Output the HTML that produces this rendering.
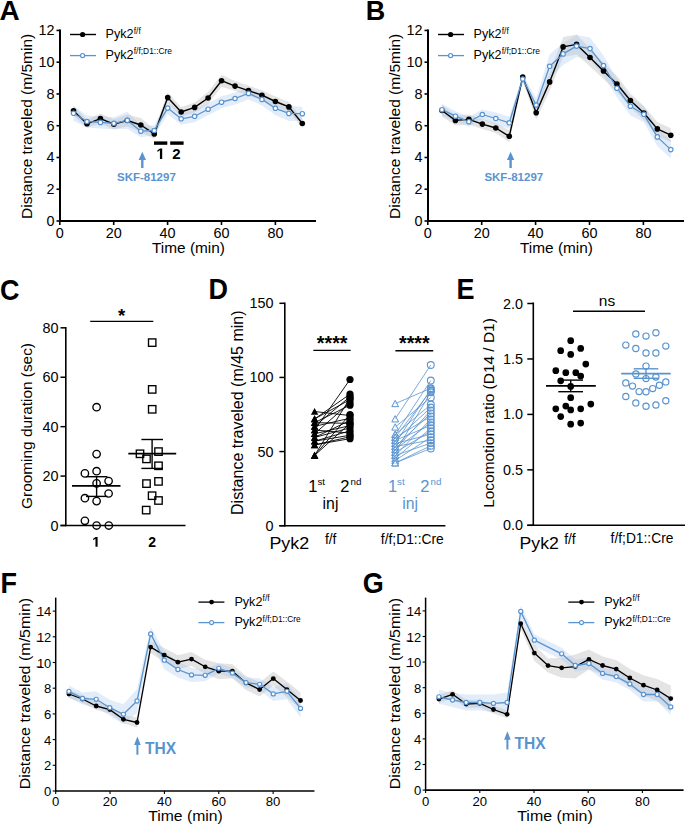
<!DOCTYPE html>
<html><head><meta charset="utf-8"><style>
html,body{margin:0;padding:0;background:#fff;}
svg{display:block;font-family:"Liberation Sans", sans-serif;}
</style></head><body>
<svg width="685" height="824" viewBox="0 0 685 824">
<rect width="685" height="824" fill="#fff"/>
<polygon points="73.50,105.70 86.96,119.80 100.42,113.60 113.88,119.20 127.34,114.50 140.80,118.00 154.26,128.90 167.72,92.60 181.18,107.00 194.64,102.40 208.10,92.00 221.56,74.70 235.02,81.10 248.48,85.60 261.94,90.20 275.40,96.50 288.86,101.90 302.32,119.50 302.32,127.50 288.86,111.90 275.40,106.50 261.94,100.20 248.48,95.60 235.02,91.10 221.56,86.70 208.10,104.00 194.64,112.40 181.18,117.00 167.72,102.60 154.26,138.90 140.80,132.00 127.34,126.50 113.88,129.20 100.42,123.60 86.96,127.80 73.50,115.70" fill="#bdbdbd" fill-opacity="0.41" stroke="none"/>
<polygon points="73.50,105.80 86.96,115.50 100.42,116.40 113.88,117.30 127.34,111.80 140.80,125.20 154.26,125.50 167.72,102.10 181.18,112.80 194.64,110.30 208.10,103.20 221.56,96.20 235.02,92.50 248.48,87.40 261.94,93.40 275.40,101.30 288.86,105.90 302.32,106.70 302.32,120.70 288.86,120.90 275.40,115.30 261.94,105.40 248.48,99.40 235.02,104.50 221.56,108.20 208.10,115.20 194.64,122.30 181.18,124.80 167.72,114.10 154.26,135.50 140.80,137.20 127.34,128.80 113.88,129.30 100.42,128.40 86.96,127.50 73.50,120.80" fill="#9ec3ea" fill-opacity="0.3" stroke="none"/>
<polyline points="73.50,110.70 86.96,123.80 100.42,118.60 113.88,124.20 127.34,120.50 140.80,125.00 154.26,133.90 167.72,97.60 181.18,112.00 194.64,107.40 208.10,98.00 221.56,80.70 235.02,86.10 248.48,90.60 261.94,95.20 275.40,101.50 288.86,106.90 302.32,123.50" fill="none" stroke="#000" stroke-width="1.4" stroke-linejoin="round"/>
<polyline points="73.50,113.30 86.96,121.50 100.42,122.40 113.88,123.30 127.34,120.30 140.80,131.20 154.26,130.50 167.72,108.10 181.18,118.80 194.64,116.30 208.10,109.20 221.56,102.20 235.02,98.50 248.48,93.40 261.94,99.40 275.40,108.30 288.86,113.40 302.32,113.70" fill="none" stroke="#5a94d0" stroke-width="1.3" stroke-linejoin="round"/>
<circle cx="73.50" cy="110.70" r="2.8" fill="#000"/>
<circle cx="86.96" cy="123.80" r="2.8" fill="#000"/>
<circle cx="100.42" cy="118.60" r="2.8" fill="#000"/>
<circle cx="113.88" cy="124.20" r="2.8" fill="#000"/>
<circle cx="127.34" cy="120.50" r="2.8" fill="#000"/>
<circle cx="140.80" cy="125.00" r="2.8" fill="#000"/>
<circle cx="154.26" cy="133.90" r="2.8" fill="#000"/>
<circle cx="167.72" cy="97.60" r="2.8" fill="#000"/>
<circle cx="181.18" cy="112.00" r="2.8" fill="#000"/>
<circle cx="194.64" cy="107.40" r="2.8" fill="#000"/>
<circle cx="208.10" cy="98.00" r="2.8" fill="#000"/>
<circle cx="221.56" cy="80.70" r="2.8" fill="#000"/>
<circle cx="235.02" cy="86.10" r="2.8" fill="#000"/>
<circle cx="248.48" cy="90.60" r="2.8" fill="#000"/>
<circle cx="261.94" cy="95.20" r="2.8" fill="#000"/>
<circle cx="275.40" cy="101.50" r="2.8" fill="#000"/>
<circle cx="288.86" cy="106.90" r="2.8" fill="#000"/>
<circle cx="302.32" cy="123.50" r="2.8" fill="#000"/>
<circle cx="73.50" cy="113.30" r="2.2" fill="#fff" stroke="#5a94d0" stroke-width="1.2"/>
<circle cx="86.96" cy="121.50" r="2.2" fill="#fff" stroke="#5a94d0" stroke-width="1.2"/>
<circle cx="100.42" cy="122.40" r="2.2" fill="#fff" stroke="#5a94d0" stroke-width="1.2"/>
<circle cx="113.88" cy="123.30" r="2.2" fill="#fff" stroke="#5a94d0" stroke-width="1.2"/>
<circle cx="127.34" cy="120.30" r="2.2" fill="#fff" stroke="#5a94d0" stroke-width="1.2"/>
<circle cx="140.80" cy="131.20" r="2.2" fill="#fff" stroke="#5a94d0" stroke-width="1.2"/>
<circle cx="154.26" cy="130.50" r="2.2" fill="#fff" stroke="#5a94d0" stroke-width="1.2"/>
<circle cx="167.72" cy="108.10" r="2.2" fill="#fff" stroke="#5a94d0" stroke-width="1.2"/>
<circle cx="181.18" cy="118.80" r="2.2" fill="#fff" stroke="#5a94d0" stroke-width="1.2"/>
<circle cx="194.64" cy="116.30" r="2.2" fill="#fff" stroke="#5a94d0" stroke-width="1.2"/>
<circle cx="208.10" cy="109.20" r="2.2" fill="#fff" stroke="#5a94d0" stroke-width="1.2"/>
<circle cx="221.56" cy="102.20" r="2.2" fill="#fff" stroke="#5a94d0" stroke-width="1.2"/>
<circle cx="235.02" cy="98.50" r="2.2" fill="#fff" stroke="#5a94d0" stroke-width="1.2"/>
<circle cx="248.48" cy="93.40" r="2.2" fill="#fff" stroke="#5a94d0" stroke-width="1.2"/>
<circle cx="261.94" cy="99.40" r="2.2" fill="#fff" stroke="#5a94d0" stroke-width="1.2"/>
<circle cx="275.40" cy="108.30" r="2.2" fill="#fff" stroke="#5a94d0" stroke-width="1.2"/>
<circle cx="288.86" cy="113.40" r="2.2" fill="#fff" stroke="#5a94d0" stroke-width="1.2"/>
<circle cx="302.32" cy="113.70" r="2.2" fill="#fff" stroke="#5a94d0" stroke-width="1.2"/>
<line x1="60.00" y1="29.50" x2="60.00" y2="222.00" stroke="#000" stroke-width="2" />
<line x1="59.00" y1="221.00" x2="316.00" y2="221.00" stroke="#000" stroke-width="2" />
<line x1="56.50" y1="221.00" x2="60.00" y2="221.00" stroke="#000" stroke-width="1.6" />
<text x="54.60" y="226.00" font-size="14.4" text-anchor="end" font-weight="normal" fill="#000" >0</text>
<line x1="56.50" y1="189.24" x2="60.00" y2="189.24" stroke="#000" stroke-width="1.6" />
<text x="54.60" y="194.24" font-size="14.4" text-anchor="end" font-weight="normal" fill="#000" >2</text>
<line x1="56.50" y1="157.48" x2="60.00" y2="157.48" stroke="#000" stroke-width="1.6" />
<text x="54.60" y="162.48" font-size="14.4" text-anchor="end" font-weight="normal" fill="#000" >4</text>
<line x1="56.50" y1="125.72" x2="60.00" y2="125.72" stroke="#000" stroke-width="1.6" />
<text x="54.60" y="130.72" font-size="14.4" text-anchor="end" font-weight="normal" fill="#000" >6</text>
<line x1="56.50" y1="93.96" x2="60.00" y2="93.96" stroke="#000" stroke-width="1.6" />
<text x="54.60" y="98.96" font-size="14.4" text-anchor="end" font-weight="normal" fill="#000" >8</text>
<line x1="56.50" y1="62.20" x2="60.00" y2="62.20" stroke="#000" stroke-width="1.6" />
<text x="54.60" y="67.20" font-size="14.4" text-anchor="end" font-weight="normal" fill="#000" >10</text>
<line x1="56.50" y1="30.44" x2="60.00" y2="30.44" stroke="#000" stroke-width="1.6" />
<text x="54.60" y="35.44" font-size="14.4" text-anchor="end" font-weight="normal" fill="#000" >12</text>
<line x1="59.80" y1="221.00" x2="59.80" y2="225.00" stroke="#000" stroke-width="1.6" />
<text x="59.80" y="237.60" font-size="14.4" text-anchor="middle" font-weight="normal" fill="#000" >0</text>
<line x1="113.70" y1="221.00" x2="113.70" y2="225.00" stroke="#000" stroke-width="1.6" />
<text x="113.70" y="237.60" font-size="14.4" text-anchor="middle" font-weight="normal" fill="#000" >20</text>
<line x1="167.60" y1="221.00" x2="167.60" y2="225.00" stroke="#000" stroke-width="1.6" />
<text x="167.60" y="237.60" font-size="14.4" text-anchor="middle" font-weight="normal" fill="#000" >40</text>
<line x1="221.50" y1="221.00" x2="221.50" y2="225.00" stroke="#000" stroke-width="1.6" />
<text x="221.50" y="237.60" font-size="14.4" text-anchor="middle" font-weight="normal" fill="#000" >60</text>
<line x1="275.40" y1="221.00" x2="275.40" y2="225.00" stroke="#000" stroke-width="1.6" />
<text x="275.40" y="237.60" font-size="14.4" text-anchor="middle" font-weight="normal" fill="#000" >80</text>
<text x="188.50" y="252.80" font-size="15.4" text-anchor="middle" font-weight="normal" fill="#000" >Time (min)</text>
<text transform="translate(32.30,126.40) rotate(-90) scale(1.0,1)" font-size="15.5" text-anchor="middle" fill="#000">Distance traveled (m/5min)</text>
<line x1="70.00" y1="34.50" x2="96.00" y2="34.50" stroke="#000" stroke-width="1.4" />
<circle cx="82.60" cy="34.5" r="2.6" fill="#000"/>
<line x1="70.00" y1="55.60" x2="96.00" y2="55.60" stroke="#5a94d0" stroke-width="1.3" />
<circle cx="82.60" cy="55.6" r="2.1" fill="#fff" stroke="#5a94d0" stroke-width="1.2"/>
<text x="105.60" y="38.40" font-size="12.6" text-anchor="start" font-weight="normal" fill="#000" >Pyk2</text>
<text x="133.80" y="34.00" font-size="8.4" text-anchor="start" font-weight="normal" fill="#000" >f/f</text>
<text x="105.60" y="58.60" font-size="12.6" text-anchor="start" font-weight="normal" fill="#000" >Pyk2</text>
<text x="133.80" y="54.20" font-size="8.4" text-anchor="start" font-weight="normal" fill="#000" >f/f;D1::Cre</text>
<path d="M142.30,151.8 L146.00,160 L143.50,160 L143.50,168 L141.10,168 L141.10,160 L138.60,160 Z" fill="#5a94d0"/>
<text x="146.40" y="181.00" font-size="11.5" text-anchor="middle" font-weight="bold" fill="#5a94d0" >SKF-81297</text>
<text transform="translate(-0.60,19.70) scale(1,1.02)" font-size="28" font-weight="bold" fill="#000">A</text>
<polygon points="441.96,104.50 455.42,115.40 468.88,114.40 482.34,119.10 495.80,123.00 509.26,130.30 522.72,73.10 536.18,105.80 549.64,72.90 563.10,36.90 576.56,34.40 590.02,48.50 603.48,62.90 616.94,76.00 630.40,93.50 643.86,106.00 657.32,121.90 670.78,128.20 670.78,142.20 657.32,135.90 643.86,120.00 630.40,107.50 616.94,92.00 603.48,78.90 590.02,66.50 576.56,54.40 563.10,56.90 549.64,90.90 536.18,119.80 522.72,81.10 509.26,142.30 495.80,133.00 482.34,129.10 468.88,124.40 455.42,125.40 441.96,116.50" fill="#bdbdbd" fill-opacity="0.41" stroke="none"/>
<polygon points="441.96,103.70 455.42,111.20 468.88,116.70 482.34,109.50 495.80,112.50 509.26,116.80 522.72,75.00 536.18,98.00 549.64,54.30 563.10,42.90 576.56,35.10 590.02,37.60 603.48,55.60 616.94,79.20 630.40,97.20 643.86,106.30 657.32,127.90 670.78,140.60 670.78,158.60 657.32,145.90 643.86,122.30 630.40,115.20 616.94,97.20 603.48,75.60 590.02,59.60 576.56,57.10 563.10,64.90 549.64,78.30 536.18,112.00 522.72,83.00 509.26,128.80 495.80,124.50 482.34,119.50 468.88,126.70 455.42,121.20 441.96,115.70" fill="#9ec3ea" fill-opacity="0.3" stroke="none"/>
<polyline points="441.96,110.50 455.42,120.40 468.88,119.40 482.34,124.10 495.80,128.00 509.26,136.30 522.72,77.10 536.18,112.80 549.64,81.90 563.10,46.90 576.56,44.40 590.02,57.50 603.48,70.90 616.94,84.00 630.40,100.50 643.86,113.00 657.32,128.90 670.78,135.20" fill="none" stroke="#000" stroke-width="1.4" stroke-linejoin="round"/>
<polyline points="441.96,109.70 455.42,116.20 468.88,121.70 482.34,114.50 495.80,118.50 509.26,122.80 522.72,79.00 536.18,105.00 549.64,66.30 563.10,53.90 576.56,46.10 590.02,48.60 603.48,65.60 616.94,88.20 630.40,106.20 643.86,114.30 657.32,136.90 670.78,149.60" fill="none" stroke="#5a94d0" stroke-width="1.3" stroke-linejoin="round"/>
<circle cx="441.96" cy="110.50" r="2.8" fill="#000"/>
<circle cx="455.42" cy="120.40" r="2.8" fill="#000"/>
<circle cx="468.88" cy="119.40" r="2.8" fill="#000"/>
<circle cx="482.34" cy="124.10" r="2.8" fill="#000"/>
<circle cx="495.80" cy="128.00" r="2.8" fill="#000"/>
<circle cx="509.26" cy="136.30" r="2.8" fill="#000"/>
<circle cx="522.72" cy="77.10" r="2.8" fill="#000"/>
<circle cx="536.18" cy="112.80" r="2.8" fill="#000"/>
<circle cx="549.64" cy="81.90" r="2.8" fill="#000"/>
<circle cx="563.10" cy="46.90" r="2.8" fill="#000"/>
<circle cx="576.56" cy="44.40" r="2.8" fill="#000"/>
<circle cx="590.02" cy="57.50" r="2.8" fill="#000"/>
<circle cx="603.48" cy="70.90" r="2.8" fill="#000"/>
<circle cx="616.94" cy="84.00" r="2.8" fill="#000"/>
<circle cx="630.40" cy="100.50" r="2.8" fill="#000"/>
<circle cx="643.86" cy="113.00" r="2.8" fill="#000"/>
<circle cx="657.32" cy="128.90" r="2.8" fill="#000"/>
<circle cx="670.78" cy="135.20" r="2.8" fill="#000"/>
<circle cx="441.96" cy="109.70" r="2.2" fill="#fff" stroke="#5a94d0" stroke-width="1.2"/>
<circle cx="455.42" cy="116.20" r="2.2" fill="#fff" stroke="#5a94d0" stroke-width="1.2"/>
<circle cx="468.88" cy="121.70" r="2.2" fill="#fff" stroke="#5a94d0" stroke-width="1.2"/>
<circle cx="482.34" cy="114.50" r="2.2" fill="#fff" stroke="#5a94d0" stroke-width="1.2"/>
<circle cx="495.80" cy="118.50" r="2.2" fill="#fff" stroke="#5a94d0" stroke-width="1.2"/>
<circle cx="509.26" cy="122.80" r="2.2" fill="#fff" stroke="#5a94d0" stroke-width="1.2"/>
<circle cx="522.72" cy="79.00" r="2.2" fill="#fff" stroke="#5a94d0" stroke-width="1.2"/>
<circle cx="536.18" cy="105.00" r="2.2" fill="#fff" stroke="#5a94d0" stroke-width="1.2"/>
<circle cx="549.64" cy="66.30" r="2.2" fill="#fff" stroke="#5a94d0" stroke-width="1.2"/>
<circle cx="563.10" cy="53.90" r="2.2" fill="#fff" stroke="#5a94d0" stroke-width="1.2"/>
<circle cx="576.56" cy="46.10" r="2.2" fill="#fff" stroke="#5a94d0" stroke-width="1.2"/>
<circle cx="590.02" cy="48.60" r="2.2" fill="#fff" stroke="#5a94d0" stroke-width="1.2"/>
<circle cx="603.48" cy="65.60" r="2.2" fill="#fff" stroke="#5a94d0" stroke-width="1.2"/>
<circle cx="616.94" cy="88.20" r="2.2" fill="#fff" stroke="#5a94d0" stroke-width="1.2"/>
<circle cx="630.40" cy="106.20" r="2.2" fill="#fff" stroke="#5a94d0" stroke-width="1.2"/>
<circle cx="643.86" cy="114.30" r="2.2" fill="#fff" stroke="#5a94d0" stroke-width="1.2"/>
<circle cx="657.32" cy="136.90" r="2.2" fill="#fff" stroke="#5a94d0" stroke-width="1.2"/>
<circle cx="670.78" cy="149.60" r="2.2" fill="#fff" stroke="#5a94d0" stroke-width="1.2"/>
<line x1="428.00" y1="29.50" x2="428.00" y2="222.00" stroke="#000" stroke-width="2" />
<line x1="427.00" y1="221.00" x2="684.00" y2="221.00" stroke="#000" stroke-width="2" />
<line x1="424.50" y1="221.00" x2="428.00" y2="221.00" stroke="#000" stroke-width="1.6" />
<text x="422.60" y="226.00" font-size="14.4" text-anchor="end" font-weight="normal" fill="#000" >0</text>
<line x1="424.50" y1="189.24" x2="428.00" y2="189.24" stroke="#000" stroke-width="1.6" />
<text x="422.60" y="194.24" font-size="14.4" text-anchor="end" font-weight="normal" fill="#000" >2</text>
<line x1="424.50" y1="157.48" x2="428.00" y2="157.48" stroke="#000" stroke-width="1.6" />
<text x="422.60" y="162.48" font-size="14.4" text-anchor="end" font-weight="normal" fill="#000" >4</text>
<line x1="424.50" y1="125.72" x2="428.00" y2="125.72" stroke="#000" stroke-width="1.6" />
<text x="422.60" y="130.72" font-size="14.4" text-anchor="end" font-weight="normal" fill="#000" >6</text>
<line x1="424.50" y1="93.96" x2="428.00" y2="93.96" stroke="#000" stroke-width="1.6" />
<text x="422.60" y="98.96" font-size="14.4" text-anchor="end" font-weight="normal" fill="#000" >8</text>
<line x1="424.50" y1="62.20" x2="428.00" y2="62.20" stroke="#000" stroke-width="1.6" />
<text x="422.60" y="67.20" font-size="14.4" text-anchor="end" font-weight="normal" fill="#000" >10</text>
<line x1="424.50" y1="30.44" x2="428.00" y2="30.44" stroke="#000" stroke-width="1.6" />
<text x="422.60" y="35.44" font-size="14.4" text-anchor="end" font-weight="normal" fill="#000" >12</text>
<line x1="427.80" y1="221.00" x2="427.80" y2="225.00" stroke="#000" stroke-width="1.6" />
<text x="427.80" y="237.60" font-size="14.4" text-anchor="middle" font-weight="normal" fill="#000" >0</text>
<line x1="481.70" y1="221.00" x2="481.70" y2="225.00" stroke="#000" stroke-width="1.6" />
<text x="481.70" y="237.60" font-size="14.4" text-anchor="middle" font-weight="normal" fill="#000" >20</text>
<line x1="535.60" y1="221.00" x2="535.60" y2="225.00" stroke="#000" stroke-width="1.6" />
<text x="535.60" y="237.60" font-size="14.4" text-anchor="middle" font-weight="normal" fill="#000" >40</text>
<line x1="589.50" y1="221.00" x2="589.50" y2="225.00" stroke="#000" stroke-width="1.6" />
<text x="589.50" y="237.60" font-size="14.4" text-anchor="middle" font-weight="normal" fill="#000" >60</text>
<line x1="643.40" y1="221.00" x2="643.40" y2="225.00" stroke="#000" stroke-width="1.6" />
<text x="643.40" y="237.60" font-size="14.4" text-anchor="middle" font-weight="normal" fill="#000" >80</text>
<text x="556.50" y="252.80" font-size="15.4" text-anchor="middle" font-weight="normal" fill="#000" >Time (min)</text>
<text transform="translate(400.30,126.40) rotate(-90) scale(1.0,1)" font-size="15.5" text-anchor="middle" fill="#000">Distance traveled (m/5min)</text>
<line x1="438.00" y1="34.50" x2="464.00" y2="34.50" stroke="#000" stroke-width="1.4" />
<circle cx="450.60" cy="34.5" r="2.6" fill="#000"/>
<line x1="438.00" y1="55.60" x2="464.00" y2="55.60" stroke="#5a94d0" stroke-width="1.3" />
<circle cx="450.60" cy="55.6" r="2.1" fill="#fff" stroke="#5a94d0" stroke-width="1.2"/>
<text x="473.60" y="38.40" font-size="12.6" text-anchor="start" font-weight="normal" fill="#000" >Pyk2</text>
<text x="501.80" y="34.00" font-size="8.4" text-anchor="start" font-weight="normal" fill="#000" >f/f</text>
<text x="473.60" y="58.60" font-size="12.6" text-anchor="start" font-weight="normal" fill="#000" >Pyk2</text>
<text x="501.80" y="54.20" font-size="8.4" text-anchor="start" font-weight="normal" fill="#000" >f/f;D1::Cre</text>
<path d="M510.60,151.8 L514.30,160 L511.80,160 L511.80,168 L509.40,168 L509.40,160 L506.90,160 Z" fill="#5a94d0"/>
<text x="513.80" y="181.00" font-size="11.5" text-anchor="middle" font-weight="bold" fill="#5a94d0" >SKF-81297</text>
<text transform="translate(365.70,19.70) scale(1,1.0)" font-size="27" font-weight="bold" fill="#000">B</text>
<rect x="154" y="141.4" width="13.3" height="3.4" fill="#000"/>
<rect x="170.2" y="141.4" width="13.4" height="3.4" fill="#000"/>
<path transform="translate(156.43,158.90) scale(0.00732,-0.00732)" d="M478 0V1170L140 959V1180L493 1409H790V0Z" fill="#000"/>
<text x="176.30" y="158.90" font-size="15" text-anchor="middle" font-weight="bold" fill="#000" >2</text>
<line x1="65.80" y1="327.00" x2="65.80" y2="526.20" stroke="#000" stroke-width="1.6" />
<line x1="60.50" y1="525.50" x2="185.50" y2="525.50" stroke="#000" stroke-width="1.6" />
<line x1="60.50" y1="525.50" x2="65.80" y2="525.50" stroke="#000" stroke-width="1.5" />
<text x="58.60" y="530.50" font-size="14.4" text-anchor="end" font-weight="normal" fill="#000" >0</text>
<line x1="60.50" y1="476.08" x2="65.80" y2="476.08" stroke="#000" stroke-width="1.5" />
<text x="58.60" y="481.08" font-size="14.4" text-anchor="end" font-weight="normal" fill="#000" >20</text>
<line x1="60.50" y1="426.66" x2="65.80" y2="426.66" stroke="#000" stroke-width="1.5" />
<text x="58.60" y="431.66" font-size="14.4" text-anchor="end" font-weight="normal" fill="#000" >40</text>
<line x1="60.50" y1="377.24" x2="65.80" y2="377.24" stroke="#000" stroke-width="1.5" />
<text x="58.60" y="382.24" font-size="14.4" text-anchor="end" font-weight="normal" fill="#000" >60</text>
<line x1="60.50" y1="327.82" x2="65.80" y2="327.82" stroke="#000" stroke-width="1.5" />
<text x="58.60" y="332.82" font-size="14.4" text-anchor="end" font-weight="normal" fill="#000" >80</text>
<path transform="translate(92.21,546.70) scale(0.00684,-0.00684)" d="M478 0V1170L140 959V1180L493 1409H790V0Z" fill="#000"/>
<text x="152.20" y="546.70" font-size="14" text-anchor="middle" font-weight="bold" fill="#000" >2</text>
<line x1="90.20" y1="321.40" x2="153.30" y2="321.40" stroke="#000" stroke-width="1.4" />
<text x="121.70" y="321.90" font-size="18.5" text-anchor="middle" font-weight="bold" fill="#000" >*</text>
<text transform="translate(31.60,426.00) rotate(-90) scale(1.0,1)" font-size="15.4" text-anchor="middle" fill="#000">Grooming duration (sec)</text>
<circle cx="96.6" cy="407.2" r="3.7" fill="none" stroke="#000" stroke-width="1.35"/>
<circle cx="96.6" cy="454.1" r="3.7" fill="none" stroke="#000" stroke-width="1.35"/>
<circle cx="84.9" cy="473.4" r="3.7" fill="none" stroke="#000" stroke-width="1.35"/>
<circle cx="96.6" cy="471.2" r="3.7" fill="none" stroke="#000" stroke-width="1.35"/>
<circle cx="108.6" cy="481.1" r="3.7" fill="none" stroke="#000" stroke-width="1.35"/>
<circle cx="96.6" cy="483.3" r="3.7" fill="none" stroke="#000" stroke-width="1.35"/>
<circle cx="108.6" cy="493.5" r="3.7" fill="none" stroke="#000" stroke-width="1.35"/>
<circle cx="84.9" cy="498.2" r="3.7" fill="none" stroke="#000" stroke-width="1.35"/>
<circle cx="96.6" cy="501.1" r="3.7" fill="none" stroke="#000" stroke-width="1.35"/>
<circle cx="84.9" cy="520.8" r="3.7" fill="none" stroke="#000" stroke-width="1.35"/>
<circle cx="96.6" cy="525.5" r="3.7" fill="none" stroke="#000" stroke-width="1.35"/>
<circle cx="108.8" cy="525.5" r="3.7" fill="none" stroke="#000" stroke-width="1.35"/>
<rect x="148.50" y="338.90" width="7.4" height="7.4" fill="none" stroke="#000" stroke-width="1.35"/>
<rect x="148.50" y="385.70" width="7.4" height="7.4" fill="none" stroke="#000" stroke-width="1.35"/>
<rect x="148.50" y="405.60" width="7.4" height="7.4" fill="none" stroke="#000" stroke-width="1.35"/>
<rect x="136.30" y="450.10" width="7.4" height="7.4" fill="none" stroke="#000" stroke-width="1.35"/>
<rect x="154.80" y="447.90" width="7.4" height="7.4" fill="none" stroke="#000" stroke-width="1.35"/>
<rect x="142.80" y="455.20" width="7.4" height="7.4" fill="none" stroke="#000" stroke-width="1.35"/>
<rect x="154.80" y="462.10" width="7.4" height="7.4" fill="none" stroke="#000" stroke-width="1.35"/>
<rect x="142.80" y="479.90" width="7.4" height="7.4" fill="none" stroke="#000" stroke-width="1.35"/>
<rect x="154.80" y="477.70" width="7.4" height="7.4" fill="none" stroke="#000" stroke-width="1.35"/>
<rect x="148.40" y="492.00" width="7.4" height="7.4" fill="none" stroke="#000" stroke-width="1.35"/>
<rect x="154.80" y="496.80" width="7.4" height="7.4" fill="none" stroke="#000" stroke-width="1.35"/>
<rect x="142.50" y="506.40" width="7.4" height="7.4" fill="none" stroke="#000" stroke-width="1.35"/>
<line x1="72.00" y1="485.90" x2="120.50" y2="485.90" stroke="#000" stroke-width="1.8" />
<line x1="96.60" y1="476.70" x2="96.60" y2="496.40" stroke="#000" stroke-width="1.4" />
<line x1="86.00" y1="476.70" x2="107.40" y2="476.70" stroke="#000" stroke-width="1.4" />
<line x1="86.00" y1="496.40" x2="107.40" y2="496.40" stroke="#000" stroke-width="1.4" />
<line x1="128.30" y1="453.60" x2="176.20" y2="453.60" stroke="#000" stroke-width="1.8" />
<line x1="152.10" y1="439.50" x2="152.10" y2="468.40" stroke="#000" stroke-width="1.4" />
<line x1="141.40" y1="439.50" x2="163.00" y2="439.50" stroke="#000" stroke-width="1.4" />
<line x1="141.40" y1="468.40" x2="163.00" y2="468.40" stroke="#000" stroke-width="1.4" />
<text transform="translate(0.00,299.50) scale(1,1.08)" font-size="27" font-weight="bold" fill="#000">C</text>
<text transform="translate(208.60,299.20) scale(1,1.08)" font-size="27" font-weight="bold" fill="#000">D</text>
<line x1="284.80" y1="302.50" x2="284.80" y2="526.40" stroke="#000" stroke-width="1.6" />
<line x1="279.20" y1="525.70" x2="445.40" y2="525.70" stroke="#000" stroke-width="1.6" />
<line x1="279.40" y1="525.70" x2="284.80" y2="525.70" stroke="#000" stroke-width="1.5" />
<text x="273.40" y="530.70" font-size="14.4" text-anchor="end" font-weight="normal" fill="#000" >0</text>
<line x1="279.40" y1="451.57" x2="284.80" y2="451.57" stroke="#000" stroke-width="1.5" />
<text x="273.40" y="456.57" font-size="14.4" text-anchor="end" font-weight="normal" fill="#000" >50</text>
<line x1="279.40" y1="377.43" x2="284.80" y2="377.43" stroke="#000" stroke-width="1.5" />
<text x="273.40" y="382.43" font-size="14.4" text-anchor="end" font-weight="normal" fill="#000" >100</text>
<line x1="279.40" y1="303.30" x2="284.80" y2="303.30" stroke="#000" stroke-width="1.5" />
<text x="273.40" y="308.30" font-size="14.4" text-anchor="end" font-weight="normal" fill="#000" >150</text>
<text transform="translate(242.60,412.70) rotate(-90) scale(1.0,1)" font-size="16.0" text-anchor="middle" fill="#000">Distance traveled (m/45 min)</text>
<line x1="313.30" y1="350.40" x2="350.70" y2="350.40" stroke="#000" stroke-width="1.4" />
<line x1="395.40" y1="350.80" x2="433.20" y2="350.80" stroke="#000" stroke-width="1.4" />
<text x="332.20" y="350.10" font-size="19.7" text-anchor="middle" font-weight="bold" fill="#000" >****</text>
<text x="414.30" y="350.10" font-size="19.7" text-anchor="middle" font-weight="bold" fill="#000" >****</text>
<text x="308.30" y="491.70" font-size="16.5" text-anchor="start" font-weight="normal" fill="#000" >1</text>
<text x="317.40" y="484.90" font-size="9.8" text-anchor="start" font-weight="normal" fill="#000" >st</text>
<text x="340.30" y="491.70" font-size="16.5" text-anchor="start" font-weight="normal" fill="#000" >2</text>
<text x="350.60" y="484.90" font-size="9.8" text-anchor="start" font-weight="normal" fill="#000" >nd</text>
<text x="322.60" y="508.80" font-size="17" text-anchor="start" font-weight="normal" fill="#000" textLength="15.8" lengthAdjust="spacingAndGlyphs">inj</text>
<text x="388.00" y="491.70" font-size="16.5" text-anchor="start" font-weight="normal" fill="#5a94d0" >1</text>
<text x="397.10" y="484.90" font-size="9.8" text-anchor="start" font-weight="normal" fill="#5a94d0" >st</text>
<text x="420.30" y="491.70" font-size="16.5" text-anchor="start" font-weight="normal" fill="#5a94d0" >2</text>
<text x="430.60" y="484.90" font-size="9.8" text-anchor="start" font-weight="normal" fill="#5a94d0" >nd</text>
<text x="402.20" y="508.80" font-size="17" text-anchor="start" font-weight="normal" fill="#5a94d0" textLength="15.8" lengthAdjust="spacingAndGlyphs">inj</text>
<text x="269.40" y="548.80" font-size="15.6" text-anchor="start" font-weight="normal" fill="#000" textLength="39.8" lengthAdjust="spacingAndGlyphs">Pyk2</text>
<text x="330.70" y="543.60" font-size="13.8" text-anchor="middle" font-weight="normal" fill="#000" >f/f</text>
<text x="412.30" y="543.60" font-size="13.8" text-anchor="middle" font-weight="normal" fill="#000" >f/f;D1::Cre</text>
<line x1="314.60" y1="411.53" x2="350.00" y2="415.54" stroke="#000" stroke-width="0.9" />
<line x1="314.60" y1="418.95" x2="350.00" y2="399.67" stroke="#000" stroke-width="0.9" />
<line x1="314.60" y1="418.95" x2="350.00" y2="394.18" stroke="#000" stroke-width="0.9" />
<line x1="314.60" y1="422.65" x2="350.00" y2="423.39" stroke="#000" stroke-width="0.9" />
<line x1="314.60" y1="422.65" x2="350.00" y2="405.16" stroke="#000" stroke-width="0.9" />
<line x1="314.60" y1="426.36" x2="350.00" y2="418.20" stroke="#000" stroke-width="0.9" />
<line x1="314.60" y1="426.36" x2="350.00" y2="396.71" stroke="#000" stroke-width="0.9" />
<line x1="314.60" y1="430.07" x2="350.00" y2="433.03" stroke="#000" stroke-width="0.9" />
<line x1="314.60" y1="430.07" x2="350.00" y2="379.51" stroke="#000" stroke-width="0.9" />
<line x1="314.60" y1="433.77" x2="350.00" y2="425.62" stroke="#000" stroke-width="0.9" />
<line x1="314.60" y1="433.77" x2="350.00" y2="402.64" stroke="#000" stroke-width="0.9" />
<line x1="314.60" y1="437.48" x2="350.00" y2="420.43" stroke="#000" stroke-width="0.9" />
<line x1="314.60" y1="437.48" x2="350.00" y2="427.84" stroke="#000" stroke-width="0.9" />
<line x1="314.60" y1="441.19" x2="350.00" y2="435.26" stroke="#000" stroke-width="0.9" />
<line x1="314.60" y1="441.19" x2="350.00" y2="430.81" stroke="#000" stroke-width="0.9" />
<line x1="314.60" y1="444.89" x2="350.00" y2="438.67" stroke="#000" stroke-width="0.9" />
<line x1="314.60" y1="444.89" x2="350.00" y2="436.74" stroke="#000" stroke-width="0.9" />
<line x1="314.60" y1="455.42" x2="350.00" y2="398.19" stroke="#000" stroke-width="0.9" />
<line x1="314.60" y1="455.42" x2="350.00" y2="423.39" stroke="#000" stroke-width="0.9" />
<line x1="314.60" y1="455.42" x2="350.00" y2="414.50" stroke="#000" stroke-width="0.9" />
<path d="M314.6,407.93 L318.3,414.83 L310.9,414.83 Z" fill="#000"/>
<path d="M314.6,415.35 L318.3,422.25 L310.9,422.25 Z" fill="#000"/>
<path d="M314.6,415.35 L318.3,422.25 L310.9,422.25 Z" fill="#000"/>
<path d="M314.6,419.05 L318.3,425.95 L310.9,425.95 Z" fill="#000"/>
<path d="M314.6,419.05 L318.3,425.95 L310.9,425.95 Z" fill="#000"/>
<path d="M314.6,422.76 L318.3,429.66 L310.9,429.66 Z" fill="#000"/>
<path d="M314.6,422.76 L318.3,429.66 L310.9,429.66 Z" fill="#000"/>
<path d="M314.6,426.47 L318.3,433.37 L310.9,433.37 Z" fill="#000"/>
<path d="M314.6,426.47 L318.3,433.37 L310.9,433.37 Z" fill="#000"/>
<path d="M314.6,430.17 L318.3,437.07 L310.9,437.07 Z" fill="#000"/>
<path d="M314.6,430.17 L318.3,437.07 L310.9,437.07 Z" fill="#000"/>
<path d="M314.6,433.88 L318.3,440.78 L310.9,440.78 Z" fill="#000"/>
<path d="M314.6,433.88 L318.3,440.78 L310.9,440.78 Z" fill="#000"/>
<path d="M314.6,437.59 L318.3,444.49 L310.9,444.49 Z" fill="#000"/>
<path d="M314.6,437.59 L318.3,444.49 L310.9,444.49 Z" fill="#000"/>
<path d="M314.6,441.29 L318.3,448.19 L310.9,448.19 Z" fill="#000"/>
<path d="M314.6,441.29 L318.3,448.19 L310.9,448.19 Z" fill="#000"/>
<path d="M314.6,451.82 L318.3,458.72 L310.9,458.72 Z" fill="#000"/>
<path d="M314.6,451.82 L318.3,458.72 L310.9,458.72 Z" fill="#000"/>
<path d="M314.6,451.82 L318.3,458.72 L310.9,458.72 Z" fill="#000"/>
<circle cx="350" cy="415.54" r="3.6" fill="#000"/>
<circle cx="350" cy="399.67" r="3.6" fill="#000"/>
<circle cx="350" cy="394.18" r="3.6" fill="#000"/>
<circle cx="350" cy="423.39" r="3.6" fill="#000"/>
<circle cx="350" cy="405.16" r="3.6" fill="#000"/>
<circle cx="350" cy="418.20" r="3.6" fill="#000"/>
<circle cx="350" cy="396.71" r="3.6" fill="#000"/>
<circle cx="350" cy="433.03" r="3.6" fill="#000"/>
<circle cx="350" cy="379.51" r="3.6" fill="#000"/>
<circle cx="350" cy="425.62" r="3.6" fill="#000"/>
<circle cx="350" cy="402.64" r="3.6" fill="#000"/>
<circle cx="350" cy="420.43" r="3.6" fill="#000"/>
<circle cx="350" cy="427.84" r="3.6" fill="#000"/>
<circle cx="350" cy="435.26" r="3.6" fill="#000"/>
<circle cx="350" cy="430.81" r="3.6" fill="#000"/>
<circle cx="350" cy="438.67" r="3.6" fill="#000"/>
<circle cx="350" cy="436.74" r="3.6" fill="#000"/>
<circle cx="350" cy="398.19" r="3.6" fill="#000"/>
<circle cx="350" cy="423.39" r="3.6" fill="#000"/>
<circle cx="350" cy="414.50" r="3.6" fill="#000"/>
<line x1="395.20" y1="403.67" x2="430.80" y2="388.25" stroke="#5a94d0" stroke-width="0.8" />
<line x1="395.20" y1="418.95" x2="430.80" y2="364.98" stroke="#5a94d0" stroke-width="0.8" />
<line x1="395.20" y1="427.10" x2="430.80" y2="397.45" stroke="#5a94d0" stroke-width="0.8" />
<line x1="395.20" y1="434.51" x2="430.80" y2="380.54" stroke="#5a94d0" stroke-width="0.8" />
<line x1="395.20" y1="434.51" x2="430.80" y2="404.56" stroke="#5a94d0" stroke-width="0.8" />
<line x1="395.20" y1="437.48" x2="430.80" y2="416.43" stroke="#5a94d0" stroke-width="0.8" />
<line x1="395.20" y1="437.48" x2="430.80" y2="390.77" stroke="#5a94d0" stroke-width="0.8" />
<line x1="395.20" y1="440.44" x2="430.80" y2="425.32" stroke="#5a94d0" stroke-width="0.8" />
<line x1="395.20" y1="440.44" x2="430.80" y2="407.53" stroke="#5a94d0" stroke-width="0.8" />
<line x1="395.20" y1="443.56" x2="430.80" y2="434.22" stroke="#5a94d0" stroke-width="0.8" />
<line x1="395.20" y1="443.56" x2="430.80" y2="389.29" stroke="#5a94d0" stroke-width="0.8" />
<line x1="395.20" y1="446.52" x2="430.80" y2="413.46" stroke="#5a94d0" stroke-width="0.8" />
<line x1="395.20" y1="446.52" x2="430.80" y2="440.15" stroke="#5a94d0" stroke-width="0.8" />
<line x1="395.20" y1="449.49" x2="430.80" y2="422.36" stroke="#5a94d0" stroke-width="0.8" />
<line x1="395.20" y1="449.49" x2="430.80" y2="410.49" stroke="#5a94d0" stroke-width="0.8" />
<line x1="395.20" y1="452.45" x2="430.80" y2="431.25" stroke="#5a94d0" stroke-width="0.8" />
<line x1="395.20" y1="452.45" x2="430.80" y2="392.26" stroke="#5a94d0" stroke-width="0.8" />
<line x1="395.20" y1="455.42" x2="430.80" y2="443.11" stroke="#5a94d0" stroke-width="0.8" />
<line x1="395.20" y1="455.42" x2="430.80" y2="419.39" stroke="#5a94d0" stroke-width="0.8" />
<line x1="395.20" y1="458.39" x2="430.80" y2="428.29" stroke="#5a94d0" stroke-width="0.8" />
<line x1="395.20" y1="460.46" x2="430.80" y2="437.18" stroke="#5a94d0" stroke-width="0.8" />
<line x1="395.20" y1="462.98" x2="430.80" y2="445.78" stroke="#5a94d0" stroke-width="0.8" />
<line x1="395.20" y1="462.98" x2="430.80" y2="448.45" stroke="#5a94d0" stroke-width="0.8" />
<path d="M395.2,400.37 L398.6,406.67 L391.8,406.67 Z" fill="#fff" fill-opacity="0.5" stroke="#5a94d0" stroke-width="1.0"/>
<path d="M395.2,415.65 L398.6,421.95 L391.8,421.95 Z" fill="#fff" fill-opacity="0.5" stroke="#5a94d0" stroke-width="1.0"/>
<path d="M395.2,423.80 L398.6,430.10 L391.8,430.10 Z" fill="#fff" fill-opacity="0.5" stroke="#5a94d0" stroke-width="1.0"/>
<path d="M395.2,431.21 L398.6,437.51 L391.8,437.51 Z" fill="#fff" fill-opacity="0.5" stroke="#5a94d0" stroke-width="1.0"/>
<path d="M395.2,431.21 L398.6,437.51 L391.8,437.51 Z" fill="#fff" fill-opacity="0.5" stroke="#5a94d0" stroke-width="1.0"/>
<path d="M395.2,434.18 L398.6,440.48 L391.8,440.48 Z" fill="#fff" fill-opacity="0.5" stroke="#5a94d0" stroke-width="1.0"/>
<path d="M395.2,434.18 L398.6,440.48 L391.8,440.48 Z" fill="#fff" fill-opacity="0.5" stroke="#5a94d0" stroke-width="1.0"/>
<path d="M395.2,437.14 L398.6,443.44 L391.8,443.44 Z" fill="#fff" fill-opacity="0.5" stroke="#5a94d0" stroke-width="1.0"/>
<path d="M395.2,437.14 L398.6,443.44 L391.8,443.44 Z" fill="#fff" fill-opacity="0.5" stroke="#5a94d0" stroke-width="1.0"/>
<path d="M395.2,440.26 L398.6,446.56 L391.8,446.56 Z" fill="#fff" fill-opacity="0.5" stroke="#5a94d0" stroke-width="1.0"/>
<path d="M395.2,440.26 L398.6,446.56 L391.8,446.56 Z" fill="#fff" fill-opacity="0.5" stroke="#5a94d0" stroke-width="1.0"/>
<path d="M395.2,443.22 L398.6,449.52 L391.8,449.52 Z" fill="#fff" fill-opacity="0.5" stroke="#5a94d0" stroke-width="1.0"/>
<path d="M395.2,443.22 L398.6,449.52 L391.8,449.52 Z" fill="#fff" fill-opacity="0.5" stroke="#5a94d0" stroke-width="1.0"/>
<path d="M395.2,446.19 L398.6,452.49 L391.8,452.49 Z" fill="#fff" fill-opacity="0.5" stroke="#5a94d0" stroke-width="1.0"/>
<path d="M395.2,446.19 L398.6,452.49 L391.8,452.49 Z" fill="#fff" fill-opacity="0.5" stroke="#5a94d0" stroke-width="1.0"/>
<path d="M395.2,449.15 L398.6,455.45 L391.8,455.45 Z" fill="#fff" fill-opacity="0.5" stroke="#5a94d0" stroke-width="1.0"/>
<path d="M395.2,449.15 L398.6,455.45 L391.8,455.45 Z" fill="#fff" fill-opacity="0.5" stroke="#5a94d0" stroke-width="1.0"/>
<path d="M395.2,452.12 L398.6,458.42 L391.8,458.42 Z" fill="#fff" fill-opacity="0.5" stroke="#5a94d0" stroke-width="1.0"/>
<path d="M395.2,452.12 L398.6,458.42 L391.8,458.42 Z" fill="#fff" fill-opacity="0.5" stroke="#5a94d0" stroke-width="1.0"/>
<path d="M395.2,455.09 L398.6,461.39 L391.8,461.39 Z" fill="#fff" fill-opacity="0.5" stroke="#5a94d0" stroke-width="1.0"/>
<path d="M395.2,457.16 L398.6,463.46 L391.8,463.46 Z" fill="#fff" fill-opacity="0.5" stroke="#5a94d0" stroke-width="1.0"/>
<path d="M395.2,459.68 L398.6,465.98 L391.8,465.98 Z" fill="#fff" fill-opacity="0.5" stroke="#5a94d0" stroke-width="1.0"/>
<path d="M395.2,459.68 L398.6,465.98 L391.8,465.98 Z" fill="#fff" fill-opacity="0.5" stroke="#5a94d0" stroke-width="1.0"/>
<circle cx="430.8" cy="388.25" r="3.4" fill="none" stroke="#5a94d0" stroke-width="1.1"/>
<circle cx="430.8" cy="364.98" r="3.4" fill="none" stroke="#5a94d0" stroke-width="1.1"/>
<circle cx="430.8" cy="397.45" r="3.4" fill="none" stroke="#5a94d0" stroke-width="1.1"/>
<circle cx="430.8" cy="380.54" r="3.4" fill="none" stroke="#5a94d0" stroke-width="1.1"/>
<circle cx="430.8" cy="404.56" r="3.4" fill="none" stroke="#5a94d0" stroke-width="1.1"/>
<circle cx="430.8" cy="416.43" r="3.4" fill="none" stroke="#5a94d0" stroke-width="1.1"/>
<circle cx="430.8" cy="390.77" r="3.4" fill="none" stroke="#5a94d0" stroke-width="1.1"/>
<circle cx="430.8" cy="425.32" r="3.4" fill="none" stroke="#5a94d0" stroke-width="1.1"/>
<circle cx="430.8" cy="407.53" r="3.4" fill="none" stroke="#5a94d0" stroke-width="1.1"/>
<circle cx="430.8" cy="434.22" r="3.4" fill="none" stroke="#5a94d0" stroke-width="1.1"/>
<circle cx="430.8" cy="389.29" r="3.4" fill="none" stroke="#5a94d0" stroke-width="1.1"/>
<circle cx="430.8" cy="413.46" r="3.4" fill="none" stroke="#5a94d0" stroke-width="1.1"/>
<circle cx="430.8" cy="440.15" r="3.4" fill="none" stroke="#5a94d0" stroke-width="1.1"/>
<circle cx="430.8" cy="422.36" r="3.4" fill="none" stroke="#5a94d0" stroke-width="1.1"/>
<circle cx="430.8" cy="410.49" r="3.4" fill="none" stroke="#5a94d0" stroke-width="1.1"/>
<circle cx="430.8" cy="431.25" r="3.4" fill="none" stroke="#5a94d0" stroke-width="1.1"/>
<circle cx="430.8" cy="392.26" r="3.4" fill="none" stroke="#5a94d0" stroke-width="1.1"/>
<circle cx="430.8" cy="443.11" r="3.4" fill="none" stroke="#5a94d0" stroke-width="1.1"/>
<circle cx="430.8" cy="419.39" r="3.4" fill="none" stroke="#5a94d0" stroke-width="1.1"/>
<circle cx="430.8" cy="428.29" r="3.4" fill="none" stroke="#5a94d0" stroke-width="1.1"/>
<circle cx="430.8" cy="437.18" r="3.4" fill="none" stroke="#5a94d0" stroke-width="1.1"/>
<circle cx="430.8" cy="445.78" r="3.4" fill="none" stroke="#5a94d0" stroke-width="1.1"/>
<circle cx="430.8" cy="448.45" r="3.4" fill="none" stroke="#5a94d0" stroke-width="1.1"/>
<text transform="translate(456.50,299.20) scale(1,1.08)" font-size="27" font-weight="bold" fill="#000">E</text>
<line x1="533.30" y1="302.50" x2="533.30" y2="526.00" stroke="#000" stroke-width="1.6" />
<line x1="527.30" y1="525.30" x2="685.00" y2="525.30" stroke="#000" stroke-width="1.6" />
<line x1="527.30" y1="525.30" x2="533.30" y2="525.30" stroke="#000" stroke-width="1.5" />
<text x="522.90" y="530.30" font-size="14.4" text-anchor="end" font-weight="normal" fill="#000" >0.0</text>
<line x1="527.30" y1="469.85" x2="533.30" y2="469.85" stroke="#000" stroke-width="1.5" />
<text x="522.90" y="474.85" font-size="14.4" text-anchor="end" font-weight="normal" fill="#000" >0.5</text>
<line x1="527.30" y1="414.40" x2="533.30" y2="414.40" stroke="#000" stroke-width="1.5" />
<text x="522.90" y="419.40" font-size="14.4" text-anchor="end" font-weight="normal" fill="#000" >1.0</text>
<line x1="527.30" y1="358.95" x2="533.30" y2="358.95" stroke="#000" stroke-width="1.5" />
<text x="522.90" y="363.95" font-size="14.4" text-anchor="end" font-weight="normal" fill="#000" >1.5</text>
<line x1="527.30" y1="303.50" x2="533.30" y2="303.50" stroke="#000" stroke-width="1.5" />
<text x="522.90" y="308.50" font-size="14.4" text-anchor="end" font-weight="normal" fill="#000" >2.0</text>
<text transform="translate(494.20,413.00) rotate(-90) scale(1.0,1)" font-size="15.45" text-anchor="middle" fill="#000">Locomotion ratio (D14 / D1)</text>
<line x1="573.00" y1="311.20" x2="645.00" y2="311.20" stroke="#000" stroke-width="1.4" />
<text x="607.00" y="305.80" font-size="15.5" text-anchor="middle" font-weight="normal" fill="#000" >ns</text>
<text x="519.60" y="549.20" font-size="15.6" text-anchor="start" font-weight="normal" fill="#000" textLength="39.2" lengthAdjust="spacingAndGlyphs">Pyk2</text>
<text x="564.20" y="543.90" font-size="13.8" text-anchor="start" font-weight="normal" fill="#000" >f/f</text>
<text x="642.00" y="543.40" font-size="13.8" text-anchor="middle" font-weight="normal" fill="#000" >f/f;D1::Cre</text>
<line x1="546.00" y1="385.80" x2="595.80" y2="385.80" stroke="#000" stroke-width="1.8" />
<line x1="570.70" y1="380.10" x2="570.70" y2="391.70" stroke="#000" stroke-width="1.4" />
<line x1="558.30" y1="380.10" x2="583.00" y2="380.10" stroke="#000" stroke-width="1.4" />
<line x1="558.30" y1="391.70" x2="583.00" y2="391.70" stroke="#000" stroke-width="1.4" />
<circle cx="570.7" cy="340.7" r="3.35" fill="#000"/>
<circle cx="560.7" cy="350.7" r="3.35" fill="#000"/>
<circle cx="580.7" cy="348.4" r="3.35" fill="#000"/>
<circle cx="570.7" cy="354.4" r="3.35" fill="#000"/>
<circle cx="585.8" cy="364.1" r="3.35" fill="#000"/>
<circle cx="555.8" cy="370.7" r="3.35" fill="#000"/>
<circle cx="565.8" cy="372.7" r="3.35" fill="#000"/>
<circle cx="575.8" cy="372.7" r="3.35" fill="#000"/>
<circle cx="580.7" cy="376.1" r="3.35" fill="#000"/>
<circle cx="560.7" cy="380.8" r="3.35" fill="#000"/>
<circle cx="570.7" cy="386.4" r="3.35" fill="#000"/>
<circle cx="570.7" cy="397.7" r="3.35" fill="#000"/>
<circle cx="590.8" cy="404.1" r="3.35" fill="#000"/>
<circle cx="565.8" cy="406.1" r="3.35" fill="#000"/>
<circle cx="555.8" cy="408.8" r="3.35" fill="#000"/>
<circle cx="570.7" cy="409.9" r="3.35" fill="#000"/>
<circle cx="580.7" cy="408.8" r="3.35" fill="#000"/>
<circle cx="560.7" cy="416.6" r="3.35" fill="#000"/>
<circle cx="570.7" cy="424.2" r="3.35" fill="#000"/>
<circle cx="580.7" cy="423.1" r="3.35" fill="#000"/>
<circle cx="635.8" cy="334" r="3.1" fill="none" stroke="#5a94d0" stroke-width="1.2"/>
<circle cx="646" cy="336.1" r="3.1" fill="none" stroke="#5a94d0" stroke-width="1.2"/>
<circle cx="655.9" cy="332.7" r="3.1" fill="none" stroke="#5a94d0" stroke-width="1.2"/>
<circle cx="625.8" cy="345.1" r="3.1" fill="none" stroke="#5a94d0" stroke-width="1.2"/>
<circle cx="635.8" cy="348.5" r="3.1" fill="none" stroke="#5a94d0" stroke-width="1.2"/>
<circle cx="665.8" cy="346.1" r="3.1" fill="none" stroke="#5a94d0" stroke-width="1.2"/>
<circle cx="646" cy="353" r="3.1" fill="none" stroke="#5a94d0" stroke-width="1.2"/>
<circle cx="655.9" cy="353" r="3.1" fill="none" stroke="#5a94d0" stroke-width="1.2"/>
<circle cx="646" cy="366.1" r="3.1" fill="none" stroke="#5a94d0" stroke-width="1.2"/>
<circle cx="635.8" cy="374" r="3.1" fill="none" stroke="#5a94d0" stroke-width="1.2"/>
<circle cx="646" cy="378.6" r="3.1" fill="none" stroke="#5a94d0" stroke-width="1.2"/>
<circle cx="655.9" cy="377" r="3.1" fill="none" stroke="#5a94d0" stroke-width="1.2"/>
<circle cx="625.8" cy="382.9" r="3.1" fill="none" stroke="#5a94d0" stroke-width="1.2"/>
<circle cx="632.5" cy="386.1" r="3.1" fill="none" stroke="#5a94d0" stroke-width="1.2"/>
<circle cx="639.1" cy="391.6" r="3.1" fill="none" stroke="#5a94d0" stroke-width="1.2"/>
<circle cx="646" cy="391.8" r="3.1" fill="none" stroke="#5a94d0" stroke-width="1.2"/>
<circle cx="652.7" cy="388.6" r="3.1" fill="none" stroke="#5a94d0" stroke-width="1.2"/>
<circle cx="659.4" cy="385.2" r="3.1" fill="none" stroke="#5a94d0" stroke-width="1.2"/>
<circle cx="665.8" cy="381.9" r="3.1" fill="none" stroke="#5a94d0" stroke-width="1.2"/>
<circle cx="625.8" cy="396.5" r="3.1" fill="none" stroke="#5a94d0" stroke-width="1.2"/>
<circle cx="635.8" cy="402.9" r="3.1" fill="none" stroke="#5a94d0" stroke-width="1.2"/>
<circle cx="646" cy="406.2" r="3.1" fill="none" stroke="#5a94d0" stroke-width="1.2"/>
<circle cx="655.9" cy="405" r="3.1" fill="none" stroke="#5a94d0" stroke-width="1.2"/>
<circle cx="665.8" cy="400.7" r="3.1" fill="none" stroke="#5a94d0" stroke-width="1.2"/>
<line x1="621.20" y1="373.60" x2="670.70" y2="373.60" stroke="#5a94d0" stroke-width="1.8" />
<line x1="646.00" y1="368.80" x2="646.00" y2="378.30" stroke="#5a94d0" stroke-width="1.4" />
<line x1="633.70" y1="368.80" x2="658.30" y2="368.80" stroke="#5a94d0" stroke-width="1.4" />
<line x1="633.70" y1="378.30" x2="658.30" y2="378.30" stroke="#5a94d0" stroke-width="1.4" />
<polygon points="68.91,690.00 82.53,695.00 96.16,702.00 109.78,705.60 123.41,715.30 137.03,717.50 150.66,641.10 164.28,648.10 177.91,655.20 191.53,652.10 205.16,659.80 218.78,663.20 232.41,664.20 246.03,675.90 259.65,682.60 273.28,671.60 286.90,681.60 300.53,692.50 300.53,708.50 286.90,697.60 273.28,685.60 259.65,696.60 246.03,689.90 232.41,678.20 218.78,679.20 205.16,673.80 191.53,666.10 177.91,669.20 164.28,662.10 150.66,653.10 137.03,727.50 123.41,723.30 109.78,713.60 96.16,710.00 82.53,703.00 68.91,698.00" fill="#bdbdbd" fill-opacity="0.41" stroke="none"/>
<polygon points="68.91,685.40 82.53,692.40 96.16,691.30 109.78,699.70 123.41,704.30 137.03,689.00 150.66,626.90 164.28,651.20 177.91,661.50 191.53,667.90 205.16,669.30 218.78,663.30 232.41,668.10 246.03,677.60 259.65,678.30 273.28,686.90 286.90,683.30 300.53,699.40 300.53,717.40 286.90,699.30 273.28,700.90 259.65,690.30 246.03,687.60 232.41,678.10 218.78,673.30 205.16,681.30 191.53,681.90 177.91,677.50 164.28,669.20 150.66,640.90 137.03,713.00 123.41,724.30 109.78,715.70 96.16,707.30 82.53,704.40 68.91,697.40" fill="#9ec3ea" fill-opacity="0.3" stroke="none"/>
<polyline points="68.91,694.00 82.53,699.00 96.16,706.00 109.78,709.60 123.41,719.30 137.03,722.50 150.66,647.10 164.28,655.10 177.91,662.20 191.53,659.10 205.16,666.80 218.78,671.20 232.41,671.20 246.03,682.90 259.65,689.60 273.28,678.60 286.90,689.60 300.53,700.50" fill="none" stroke="#000" stroke-width="1.3" stroke-linejoin="round"/>
<polyline points="68.91,691.40 82.53,698.40 96.16,699.30 109.78,707.70 123.41,714.30 137.03,701.00 150.66,633.90 164.28,660.20 177.91,669.50 191.53,674.90 205.16,675.30 218.78,668.30 232.41,673.10 246.03,682.60 259.65,684.30 273.28,693.90 286.90,691.30 300.53,708.40" fill="none" stroke="#5a94d0" stroke-width="1.3" stroke-linejoin="round"/>
<circle cx="68.91" cy="694.00" r="2.4" fill="#000"/>
<circle cx="82.53" cy="699.00" r="2.4" fill="#000"/>
<circle cx="96.16" cy="706.00" r="2.4" fill="#000"/>
<circle cx="109.78" cy="709.60" r="2.4" fill="#000"/>
<circle cx="123.41" cy="719.30" r="2.4" fill="#000"/>
<circle cx="137.03" cy="722.50" r="2.4" fill="#000"/>
<circle cx="150.66" cy="647.10" r="2.4" fill="#000"/>
<circle cx="164.28" cy="655.10" r="2.4" fill="#000"/>
<circle cx="177.91" cy="662.20" r="2.4" fill="#000"/>
<circle cx="191.53" cy="659.10" r="2.4" fill="#000"/>
<circle cx="205.16" cy="666.80" r="2.4" fill="#000"/>
<circle cx="218.78" cy="671.20" r="2.4" fill="#000"/>
<circle cx="232.41" cy="671.20" r="2.4" fill="#000"/>
<circle cx="246.03" cy="682.90" r="2.4" fill="#000"/>
<circle cx="259.65" cy="689.60" r="2.4" fill="#000"/>
<circle cx="273.28" cy="678.60" r="2.4" fill="#000"/>
<circle cx="286.90" cy="689.60" r="2.4" fill="#000"/>
<circle cx="300.53" cy="700.50" r="2.4" fill="#000"/>
<circle cx="68.91" cy="691.40" r="2.05" fill="#fff" stroke="#5a94d0" stroke-width="1.2"/>
<circle cx="82.53" cy="698.40" r="2.05" fill="#fff" stroke="#5a94d0" stroke-width="1.2"/>
<circle cx="96.16" cy="699.30" r="2.05" fill="#fff" stroke="#5a94d0" stroke-width="1.2"/>
<circle cx="109.78" cy="707.70" r="2.05" fill="#fff" stroke="#5a94d0" stroke-width="1.2"/>
<circle cx="123.41" cy="714.30" r="2.05" fill="#fff" stroke="#5a94d0" stroke-width="1.2"/>
<circle cx="137.03" cy="701.00" r="2.05" fill="#fff" stroke="#5a94d0" stroke-width="1.2"/>
<circle cx="150.66" cy="633.90" r="2.05" fill="#fff" stroke="#5a94d0" stroke-width="1.2"/>
<circle cx="164.28" cy="660.20" r="2.05" fill="#fff" stroke="#5a94d0" stroke-width="1.2"/>
<circle cx="177.91" cy="669.50" r="2.05" fill="#fff" stroke="#5a94d0" stroke-width="1.2"/>
<circle cx="191.53" cy="674.90" r="2.05" fill="#fff" stroke="#5a94d0" stroke-width="1.2"/>
<circle cx="205.16" cy="675.30" r="2.05" fill="#fff" stroke="#5a94d0" stroke-width="1.2"/>
<circle cx="218.78" cy="668.30" r="2.05" fill="#fff" stroke="#5a94d0" stroke-width="1.2"/>
<circle cx="232.41" cy="673.10" r="2.05" fill="#fff" stroke="#5a94d0" stroke-width="1.2"/>
<circle cx="246.03" cy="682.60" r="2.05" fill="#fff" stroke="#5a94d0" stroke-width="1.2"/>
<circle cx="259.65" cy="684.30" r="2.05" fill="#fff" stroke="#5a94d0" stroke-width="1.2"/>
<circle cx="273.28" cy="693.90" r="2.05" fill="#fff" stroke="#5a94d0" stroke-width="1.2"/>
<circle cx="286.90" cy="691.30" r="2.05" fill="#fff" stroke="#5a94d0" stroke-width="1.2"/>
<circle cx="300.53" cy="708.40" r="2.05" fill="#fff" stroke="#5a94d0" stroke-width="1.2"/>
<line x1="55.70" y1="597.60" x2="55.70" y2="791.70" stroke="#000" stroke-width="1.5" />
<line x1="55.00" y1="791.00" x2="314.45" y2="791.00" stroke="#000" stroke-width="1.6" />
<line x1="52.70" y1="791.00" x2="55.70" y2="791.00" stroke="#000" stroke-width="1.1" />
<text x="51.30" y="796.00" font-size="12" text-anchor="end" font-weight="normal" fill="#000" textLength="7.3" lengthAdjust="spacingAndGlyphs">0</text>
<line x1="52.70" y1="765.30" x2="55.70" y2="765.30" stroke="#000" stroke-width="1.1" />
<text x="51.30" y="770.30" font-size="12" text-anchor="end" font-weight="normal" fill="#000" textLength="7.3" lengthAdjust="spacingAndGlyphs">2</text>
<line x1="52.70" y1="739.60" x2="55.70" y2="739.60" stroke="#000" stroke-width="1.1" />
<text x="51.30" y="744.60" font-size="12" text-anchor="end" font-weight="normal" fill="#000" textLength="7.3" lengthAdjust="spacingAndGlyphs">4</text>
<line x1="52.70" y1="713.90" x2="55.70" y2="713.90" stroke="#000" stroke-width="1.1" />
<text x="51.30" y="718.90" font-size="12" text-anchor="end" font-weight="normal" fill="#000" textLength="7.3" lengthAdjust="spacingAndGlyphs">6</text>
<line x1="52.70" y1="688.20" x2="55.70" y2="688.20" stroke="#000" stroke-width="1.1" />
<text x="51.30" y="693.20" font-size="12" text-anchor="end" font-weight="normal" fill="#000" textLength="7.3" lengthAdjust="spacingAndGlyphs">8</text>
<line x1="52.70" y1="662.50" x2="55.70" y2="662.50" stroke="#000" stroke-width="1.1" />
<text x="51.30" y="667.50" font-size="12" text-anchor="end" font-weight="normal" fill="#000" textLength="14.4" lengthAdjust="spacingAndGlyphs">10</text>
<line x1="36.70" y1="666.95" x2="41.90" y2="666.95" stroke="#000" stroke-width="1.1" />
<line x1="52.70" y1="636.80" x2="55.70" y2="636.80" stroke="#000" stroke-width="1.1" />
<text x="51.30" y="641.80" font-size="12" text-anchor="end" font-weight="normal" fill="#000" textLength="14.4" lengthAdjust="spacingAndGlyphs">12</text>
<line x1="36.70" y1="641.25" x2="41.90" y2="641.25" stroke="#000" stroke-width="1.1" />
<line x1="52.70" y1="611.10" x2="55.70" y2="611.10" stroke="#000" stroke-width="1.1" />
<text x="51.30" y="616.10" font-size="12" text-anchor="end" font-weight="normal" fill="#000" textLength="14.4" lengthAdjust="spacingAndGlyphs">14</text>
<line x1="36.70" y1="615.55" x2="41.90" y2="615.55" stroke="#000" stroke-width="1.1" />
<line x1="55.70" y1="791.00" x2="55.70" y2="794.00" stroke="#000" stroke-width="1.1" />
<text x="55.70" y="806.10" font-size="12" text-anchor="middle" font-weight="normal" fill="#000" textLength="7.3" lengthAdjust="spacingAndGlyphs">0</text>
<line x1="110.06" y1="791.00" x2="110.06" y2="794.00" stroke="#000" stroke-width="1.1" />
<text x="110.06" y="806.10" font-size="12" text-anchor="middle" font-weight="normal" fill="#000" textLength="14.6" lengthAdjust="spacingAndGlyphs">20</text>
<line x1="164.42" y1="791.00" x2="164.42" y2="794.00" stroke="#000" stroke-width="1.1" />
<text x="164.42" y="806.10" font-size="12" text-anchor="middle" font-weight="normal" fill="#000" textLength="14.6" lengthAdjust="spacingAndGlyphs">40</text>
<line x1="218.78" y1="791.00" x2="218.78" y2="794.00" stroke="#000" stroke-width="1.1" />
<text x="218.78" y="806.10" font-size="12" text-anchor="middle" font-weight="normal" fill="#000" textLength="14.6" lengthAdjust="spacingAndGlyphs">60</text>
<line x1="273.14" y1="791.00" x2="273.14" y2="794.00" stroke="#000" stroke-width="1.1" />
<text x="273.14" y="806.10" font-size="12" text-anchor="middle" font-weight="normal" fill="#000" textLength="14.6" lengthAdjust="spacingAndGlyphs">80</text>
<text x="185.50" y="821.00" font-size="15.0" text-anchor="middle" font-weight="normal" fill="#000" textLength="74.5" lengthAdjust="spacingAndGlyphs">Time (min)</text>
<text transform="translate(29.70,693.60) rotate(-90) scale(1.07,1)" font-size="15.0" text-anchor="middle" fill="#000">Distance traveled (m/5min)</text>
<line x1="198.40" y1="602.10" x2="224.40" y2="602.10" stroke="#000" stroke-width="1.3" />
<circle cx="211.60" cy="602.1" r="2.4" fill="#000"/>
<line x1="198.40" y1="622.60" x2="224.40" y2="622.60" stroke="#5a94d0" stroke-width="1.3" />
<circle cx="211.60" cy="622.6" r="2.0" fill="#fff" stroke="#5a94d0" stroke-width="1.1"/>
<text x="234.40" y="605.80" font-size="12.6" text-anchor="start" font-weight="normal" fill="#000" >Pyk2</text>
<text x="262.60" y="601.40" font-size="8.4" text-anchor="start" font-weight="normal" fill="#000" >f/f</text>
<text x="234.40" y="626.40" font-size="12.6" text-anchor="start" font-weight="normal" fill="#000" >Pyk2</text>
<text x="262.60" y="622.00" font-size="8.4" text-anchor="start" font-weight="normal" fill="#000" >f/f;D1::Cre</text>
<path d="M137.40,736.40 L140.70,745.00 L138.40,745.00 L138.40,754.70 L136.40,754.70 L136.40,745.00 L134.10,745.00 Z" fill="#5a94d0"/>
<text x="145.00" y="753.50" font-size="15.6" text-anchor="start" font-weight="bold" fill="#5a94d0" >THX</text>
<text transform="translate(0.60,592.80) scale(1,1.08)" font-size="27" font-weight="bold" fill="#000">F</text>
<polygon points="438.90,695.10 452.54,690.30 466.18,700.00 479.82,699.40 493.46,705.50 507.10,710.30 520.74,618.70 534.38,645.10 548.02,658.60 561.66,657.80 575.30,654.60 588.94,649.40 602.58,656.50 616.22,660.10 629.86,669.00 643.50,675.20 657.14,679.00 670.78,685.60 670.78,711.60 657.14,701.00 643.50,695.20 629.86,687.00 616.22,678.10 602.58,674.50 588.94,669.40 575.30,678.60 561.66,677.80 548.02,672.60 534.38,661.10 520.74,628.70 507.10,718.30 493.46,713.50 479.82,707.40 466.18,708.00 452.54,698.30 438.90,703.10" fill="#bdbdbd" fill-opacity="0.41" stroke="none"/>
<polygon points="438.90,689.80 452.54,693.00 466.18,694.50 479.82,694.50 493.46,694.40 507.10,692.50 520.74,605.40 534.38,634.20 561.66,647.80 575.30,659.50 588.94,657.50 602.58,667.40 616.22,670.60 629.86,677.90 643.50,687.50 657.14,687.50 670.78,698.90 670.78,714.90 657.14,701.50 643.50,701.50 629.86,689.90 616.22,682.60 602.58,679.40 588.94,669.50 575.30,671.50 561.66,659.80 534.38,646.20 520.74,617.40 507.10,712.50 493.46,712.40 479.82,710.50 466.18,710.50 452.54,707.00 438.90,703.80" fill="#9ec3ea" fill-opacity="0.3" stroke="none"/>
<polyline points="438.90,699.10 452.54,694.30 466.18,704.00 479.82,703.40 493.46,709.50 507.10,714.30 520.74,623.70 534.38,653.10 548.02,665.60 561.66,667.80 575.30,666.60 588.94,659.40 602.58,665.50 616.22,669.10 629.86,678.00 643.50,685.20 657.14,690.00 670.78,698.60" fill="none" stroke="#000" stroke-width="1.3" stroke-linejoin="round"/>
<polyline points="438.90,696.80 452.54,700.00 466.18,702.50 479.82,702.50 493.46,703.40 507.10,702.50 520.74,611.40 534.38,640.20 561.66,653.80 575.30,665.50 588.94,663.50 602.58,673.40 616.22,676.60 629.86,683.90 643.50,694.50 657.14,694.50 670.78,706.90" fill="none" stroke="#5a94d0" stroke-width="1.3" stroke-linejoin="round"/>
<circle cx="438.90" cy="699.10" r="2.4" fill="#000"/>
<circle cx="452.54" cy="694.30" r="2.4" fill="#000"/>
<circle cx="466.18" cy="704.00" r="2.4" fill="#000"/>
<circle cx="479.82" cy="703.40" r="2.4" fill="#000"/>
<circle cx="493.46" cy="709.50" r="2.4" fill="#000"/>
<circle cx="507.10" cy="714.30" r="2.4" fill="#000"/>
<circle cx="520.74" cy="623.70" r="2.4" fill="#000"/>
<circle cx="534.38" cy="653.10" r="2.4" fill="#000"/>
<circle cx="548.02" cy="665.60" r="2.4" fill="#000"/>
<circle cx="561.66" cy="667.80" r="2.4" fill="#000"/>
<circle cx="575.30" cy="666.60" r="2.4" fill="#000"/>
<circle cx="588.94" cy="659.40" r="2.4" fill="#000"/>
<circle cx="602.58" cy="665.50" r="2.4" fill="#000"/>
<circle cx="616.22" cy="669.10" r="2.4" fill="#000"/>
<circle cx="629.86" cy="678.00" r="2.4" fill="#000"/>
<circle cx="643.50" cy="685.20" r="2.4" fill="#000"/>
<circle cx="657.14" cy="690.00" r="2.4" fill="#000"/>
<circle cx="670.78" cy="698.60" r="2.4" fill="#000"/>
<circle cx="438.90" cy="696.80" r="2.05" fill="#fff" stroke="#5a94d0" stroke-width="1.2"/>
<circle cx="452.54" cy="700.00" r="2.05" fill="#fff" stroke="#5a94d0" stroke-width="1.2"/>
<circle cx="466.18" cy="702.50" r="2.05" fill="#fff" stroke="#5a94d0" stroke-width="1.2"/>
<circle cx="479.82" cy="702.50" r="2.05" fill="#fff" stroke="#5a94d0" stroke-width="1.2"/>
<circle cx="493.46" cy="703.40" r="2.05" fill="#fff" stroke="#5a94d0" stroke-width="1.2"/>
<circle cx="507.10" cy="702.50" r="2.05" fill="#fff" stroke="#5a94d0" stroke-width="1.2"/>
<circle cx="520.74" cy="611.40" r="2.05" fill="#fff" stroke="#5a94d0" stroke-width="1.2"/>
<circle cx="534.38" cy="640.20" r="2.05" fill="#fff" stroke="#5a94d0" stroke-width="1.2"/>
<circle cx="561.66" cy="653.80" r="2.05" fill="#fff" stroke="#5a94d0" stroke-width="1.2"/>
<circle cx="575.30" cy="665.50" r="2.05" fill="#fff" stroke="#5a94d0" stroke-width="1.2"/>
<circle cx="588.94" cy="663.50" r="2.05" fill="#fff" stroke="#5a94d0" stroke-width="1.2"/>
<circle cx="602.58" cy="673.40" r="2.05" fill="#fff" stroke="#5a94d0" stroke-width="1.2"/>
<circle cx="616.22" cy="676.60" r="2.05" fill="#fff" stroke="#5a94d0" stroke-width="1.2"/>
<circle cx="629.86" cy="683.90" r="2.05" fill="#fff" stroke="#5a94d0" stroke-width="1.2"/>
<circle cx="643.50" cy="694.50" r="2.05" fill="#fff" stroke="#5a94d0" stroke-width="1.2"/>
<circle cx="657.14" cy="694.50" r="2.05" fill="#fff" stroke="#5a94d0" stroke-width="1.2"/>
<circle cx="670.78" cy="706.90" r="2.05" fill="#fff" stroke="#5a94d0" stroke-width="1.2"/>
<line x1="425.60" y1="597.60" x2="425.60" y2="790.80" stroke="#000" stroke-width="1.5" />
<line x1="424.90" y1="790.10" x2="683.59" y2="790.10" stroke="#000" stroke-width="1.6" />
<line x1="422.60" y1="790.10" x2="425.60" y2="790.10" stroke="#000" stroke-width="1.1" />
<text x="421.20" y="795.10" font-size="12" text-anchor="end" font-weight="normal" fill="#000" textLength="7.3" lengthAdjust="spacingAndGlyphs">0</text>
<line x1="422.60" y1="764.50" x2="425.60" y2="764.50" stroke="#000" stroke-width="1.1" />
<text x="421.20" y="769.50" font-size="12" text-anchor="end" font-weight="normal" fill="#000" textLength="7.3" lengthAdjust="spacingAndGlyphs">2</text>
<line x1="422.60" y1="738.90" x2="425.60" y2="738.90" stroke="#000" stroke-width="1.1" />
<text x="421.20" y="743.90" font-size="12" text-anchor="end" font-weight="normal" fill="#000" textLength="7.3" lengthAdjust="spacingAndGlyphs">4</text>
<line x1="422.60" y1="713.30" x2="425.60" y2="713.30" stroke="#000" stroke-width="1.1" />
<text x="421.20" y="718.30" font-size="12" text-anchor="end" font-weight="normal" fill="#000" textLength="7.3" lengthAdjust="spacingAndGlyphs">6</text>
<line x1="422.60" y1="687.70" x2="425.60" y2="687.70" stroke="#000" stroke-width="1.1" />
<text x="421.20" y="692.70" font-size="12" text-anchor="end" font-weight="normal" fill="#000" textLength="7.3" lengthAdjust="spacingAndGlyphs">8</text>
<line x1="422.60" y1="662.10" x2="425.60" y2="662.10" stroke="#000" stroke-width="1.1" />
<text x="421.20" y="667.10" font-size="12" text-anchor="end" font-weight="normal" fill="#000" textLength="14.4" lengthAdjust="spacingAndGlyphs">10</text>
<line x1="406.60" y1="666.55" x2="411.80" y2="666.55" stroke="#000" stroke-width="1.1" />
<line x1="422.60" y1="636.50" x2="425.60" y2="636.50" stroke="#000" stroke-width="1.1" />
<text x="421.20" y="641.50" font-size="12" text-anchor="end" font-weight="normal" fill="#000" textLength="14.4" lengthAdjust="spacingAndGlyphs">12</text>
<line x1="406.60" y1="640.95" x2="411.80" y2="640.95" stroke="#000" stroke-width="1.1" />
<line x1="422.60" y1="610.90" x2="425.60" y2="610.90" stroke="#000" stroke-width="1.1" />
<text x="421.20" y="615.90" font-size="12" text-anchor="end" font-weight="normal" fill="#000" textLength="14.4" lengthAdjust="spacingAndGlyphs">14</text>
<line x1="406.60" y1="615.35" x2="411.80" y2="615.35" stroke="#000" stroke-width="1.1" />
<line x1="425.60" y1="790.10" x2="425.60" y2="793.10" stroke="#000" stroke-width="1.1" />
<text x="425.60" y="806.10" font-size="12" text-anchor="middle" font-weight="normal" fill="#000" textLength="7.3" lengthAdjust="spacingAndGlyphs">0</text>
<line x1="479.80" y1="790.10" x2="479.80" y2="793.10" stroke="#000" stroke-width="1.1" />
<text x="479.80" y="806.10" font-size="12" text-anchor="middle" font-weight="normal" fill="#000" textLength="14.6" lengthAdjust="spacingAndGlyphs">20</text>
<line x1="534.00" y1="790.10" x2="534.00" y2="793.10" stroke="#000" stroke-width="1.1" />
<text x="534.00" y="806.10" font-size="12" text-anchor="middle" font-weight="normal" fill="#000" textLength="14.6" lengthAdjust="spacingAndGlyphs">40</text>
<line x1="588.20" y1="790.10" x2="588.20" y2="793.10" stroke="#000" stroke-width="1.1" />
<text x="588.20" y="806.10" font-size="12" text-anchor="middle" font-weight="normal" fill="#000" textLength="14.6" lengthAdjust="spacingAndGlyphs">60</text>
<line x1="642.40" y1="790.10" x2="642.40" y2="793.10" stroke="#000" stroke-width="1.1" />
<text x="642.40" y="806.10" font-size="12" text-anchor="middle" font-weight="normal" fill="#000" textLength="14.6" lengthAdjust="spacingAndGlyphs">80</text>
<text x="555.00" y="821.00" font-size="15.0" text-anchor="middle" font-weight="normal" fill="#000" textLength="75.6" lengthAdjust="spacingAndGlyphs">Time (min)</text>
<text transform="translate(399.80,693.60) rotate(-90) scale(1.07,1)" font-size="15.0" text-anchor="middle" fill="#000">Distance traveled (m/5min)</text>
<line x1="568.30" y1="602.10" x2="594.30" y2="602.10" stroke="#000" stroke-width="1.3" />
<circle cx="581.50" cy="602.1" r="2.4" fill="#000"/>
<line x1="568.30" y1="622.60" x2="594.30" y2="622.60" stroke="#5a94d0" stroke-width="1.3" />
<circle cx="581.50" cy="622.6" r="2.0" fill="#fff" stroke="#5a94d0" stroke-width="1.1"/>
<text x="604.30" y="605.80" font-size="12.6" text-anchor="start" font-weight="normal" fill="#000" >Pyk2</text>
<text x="632.50" y="601.40" font-size="8.4" text-anchor="start" font-weight="normal" fill="#000" >f/f</text>
<text x="604.30" y="626.40" font-size="12.6" text-anchor="start" font-weight="normal" fill="#000" >Pyk2</text>
<text x="632.50" y="622.00" font-size="8.4" text-anchor="start" font-weight="normal" fill="#000" >f/f;D1::Cre</text>
<path d="M507.40,731.20 L510.70,739.80 L508.40,739.80 L508.40,749.50 L506.40,749.50 L506.40,739.80 L504.10,739.80 Z" fill="#5a94d0"/>
<text x="514.40" y="749.20" font-size="15.6" text-anchor="start" font-weight="bold" fill="#5a94d0" >THX</text>
<text transform="translate(362.80,592.80) scale(1,1.08)" font-size="27" font-weight="bold" fill="#000">G</text>
</svg>
</body></html>
